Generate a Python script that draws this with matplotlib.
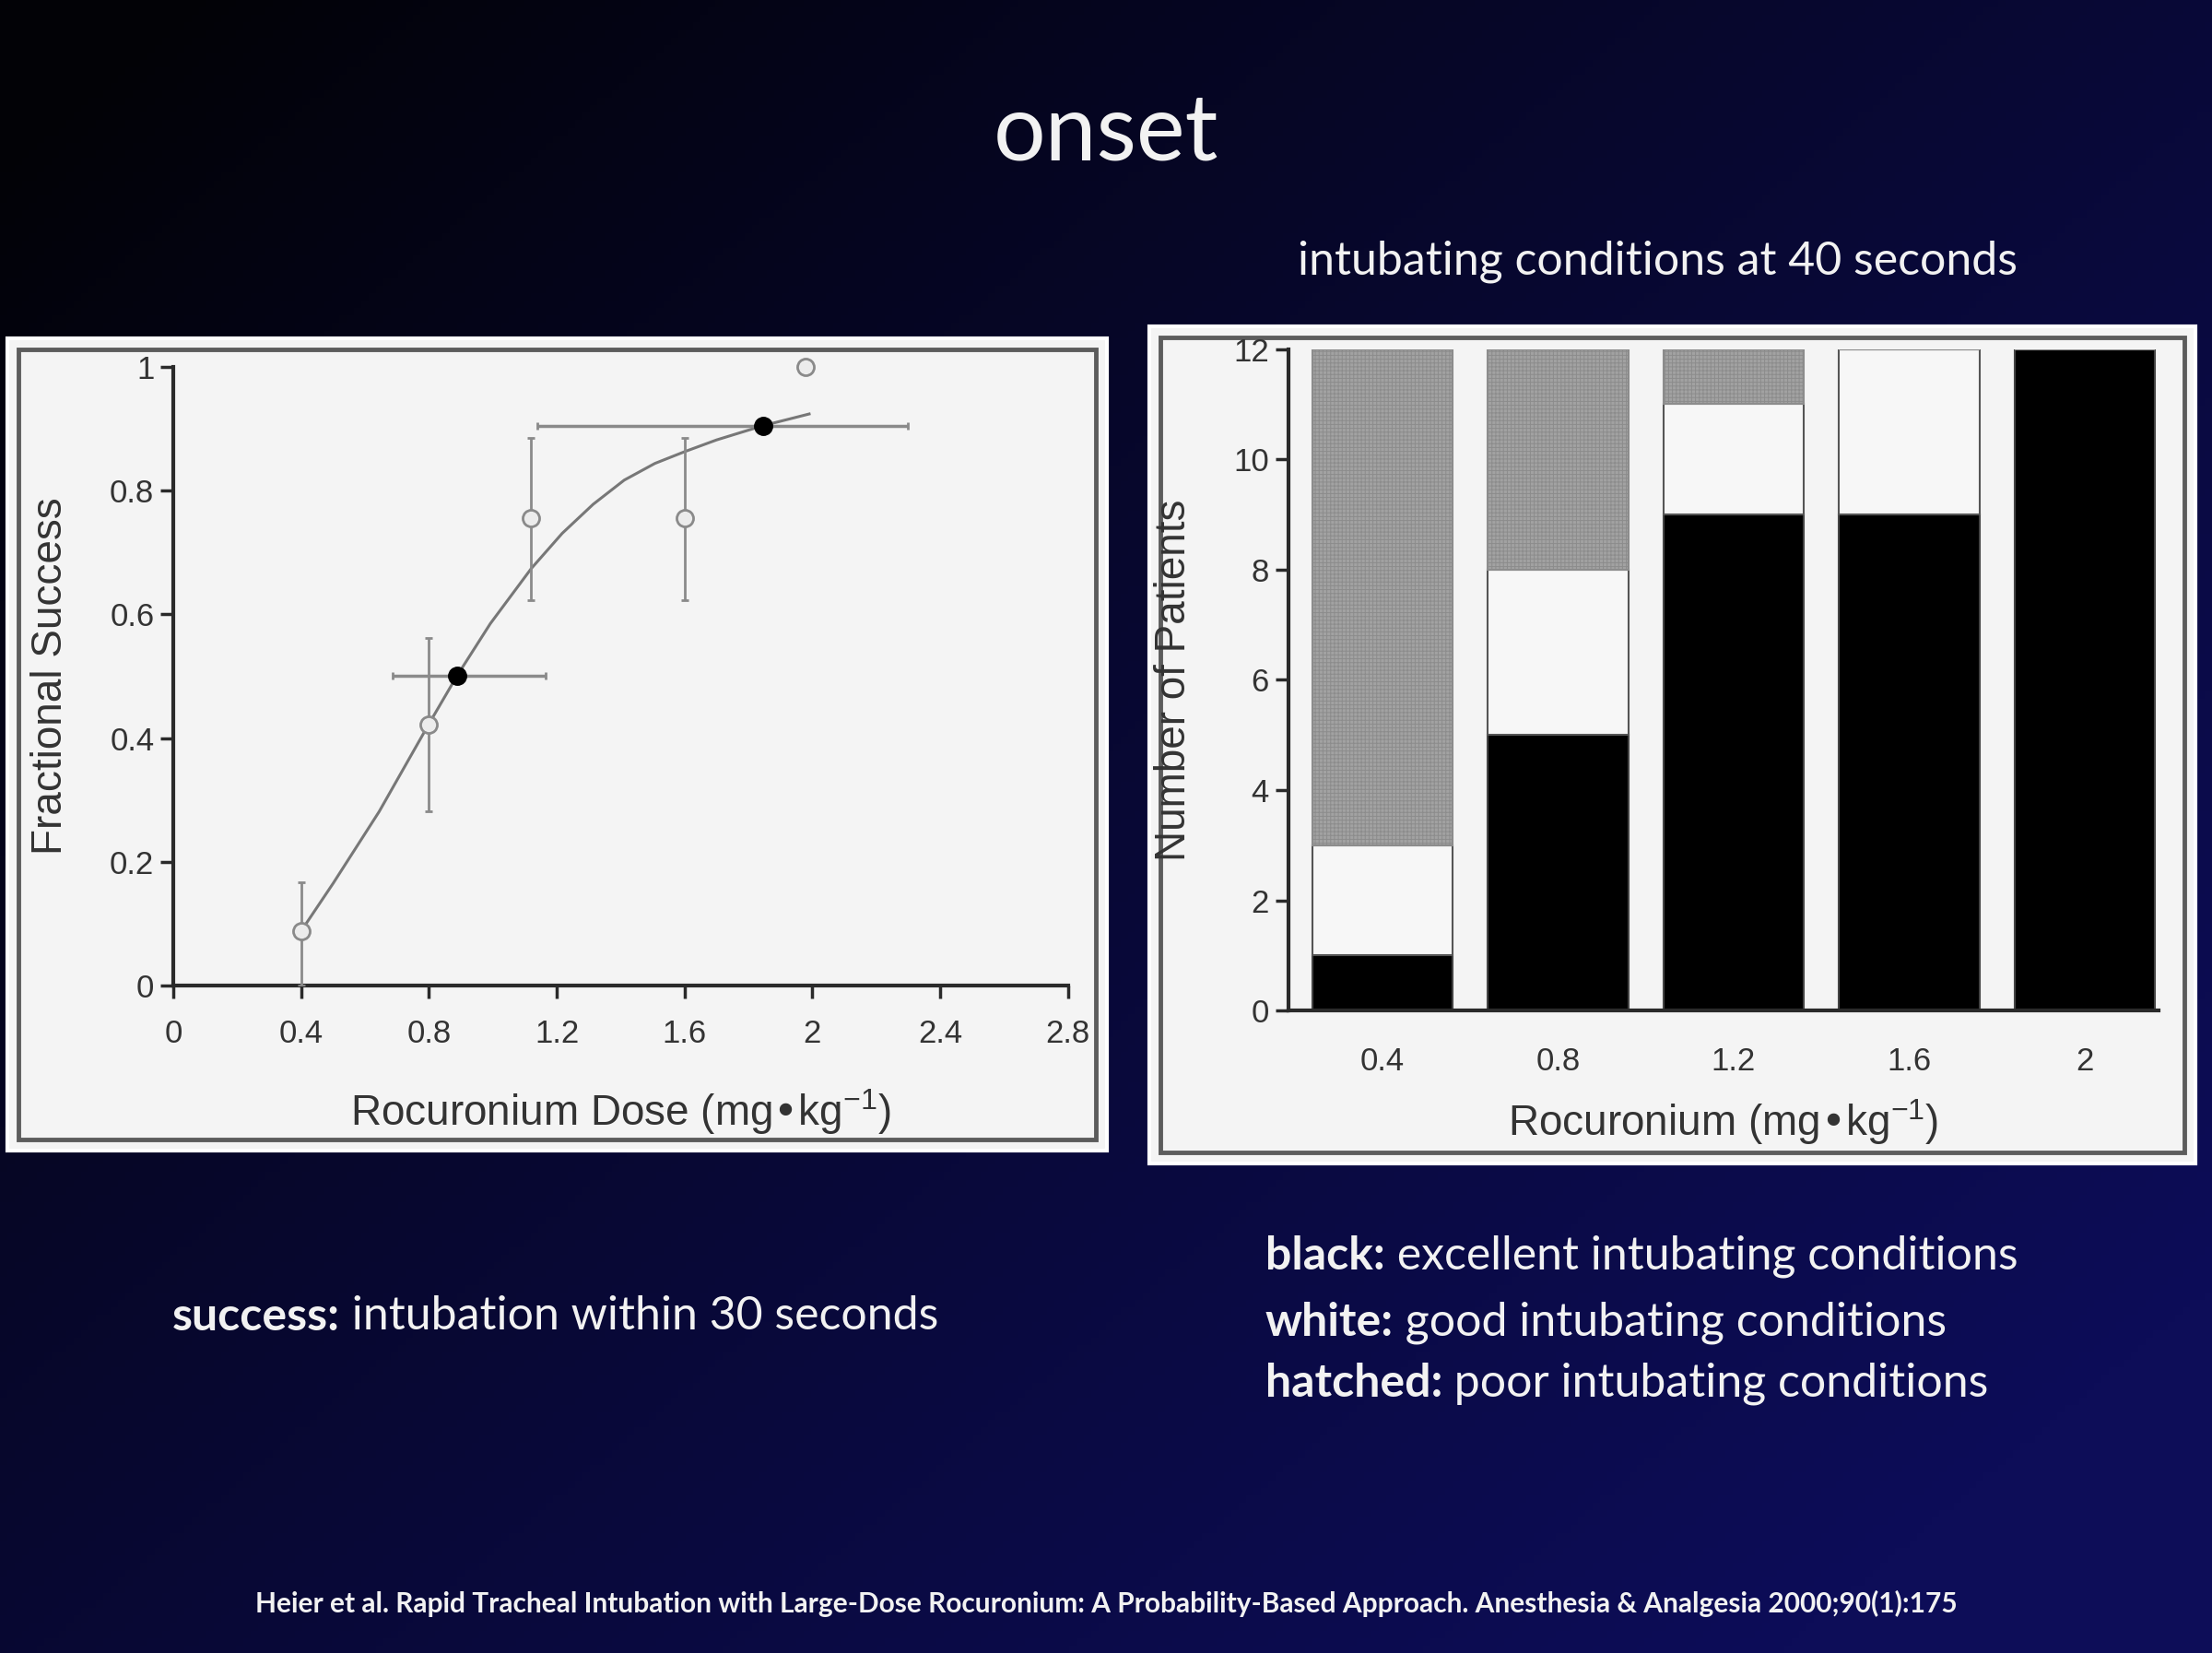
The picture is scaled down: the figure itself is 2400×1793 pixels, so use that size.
import numpy as np
import matplotlib
matplotlib.use("Agg")
import matplotlib.pyplot as plt
from matplotlib.patches import Rectangle

# left chart: fractional success vs dose
open_x = [0.4, 0.8, 1.12, 1.6, 1.98]
open_y = [0.087, 0.422, 0.756, 0.756, 1.0]
open_lo = [0.0, 0.281, 0.623, 0.623, 1.0]
open_hi = [0.167, 0.562, 0.886, 0.886, 1.0]

ed_x = [0.887, 1.845]
ed_y = [0.5, 0.905]
ed_lo = [0.685, 1.14]
ed_hi = [1.166, 2.30]

curve_x = [0.4, 0.5, 0.644, 0.8, 0.887, 0.992, 1.12, 1.217, 1.314, 1.411, 1.507, 1.6, 1.70, 1.845, 1.99]
curve_y = [0.088, 0.165, 0.281, 0.423, 0.5, 0.585, 0.674, 0.731, 0.778, 0.817, 0.844, 0.863, 0.882, 0.905, 0.924]

left_xticks = [0, 0.4, 0.8, 1.2, 1.6, 2, 2.4, 2.8]
left_xlabels = ["0", "0.4", "0.8", "1.2", "1.6", "2", "2.4", "2.8"]
left_yticks = [0, 0.2, 0.4, 0.6, 0.8, 1]
left_ylabels = ["0", "0.2", "0.4", "0.6", "0.8", "1"]

# right chart: intubating conditions at 40 s
doses = ["0.4", "0.8", "1.2", "1.6", "2"]
excellent = [1, 5, 9, 9, 12]
good = [2, 3, 2, 3, 0]
poor = [9, 4, 1, 0, 0]
right_yticks = [0, 2, 4, 6, 8, 10, 12]

W, H = 2400, 1793
fig = plt.figure(figsize=(W / 100, H / 100), dpi=100)

# background gradient + white panels
bg = fig.add_axes([0, 0, 1, 1], zorder=-5)
bg.axis("off")
gx, gy = np.meshgrid(np.linspace(0, 1, 300), np.linspace(0, 1, 220))
t = np.clip(0.62 * gx + 0.55 * gy - 0.05, 0, 1) ** 0.9
c0 = np.array([2, 2, 6]) / 255.0
c1 = np.array([13, 13, 88]) / 255.0
bg.imshow(c0 + (c1 - c0) * t[..., None], extent=[0, 1, 0, 1], aspect="auto", origin="upper")
bg.set_xlim(0, 1)
bg.set_ylim(0, 1)

for (x0, y0, x1, y1) in [(0.0033, 0.304, 0.5004, 0.7953), (0.5196, 0.2962, 0.9925, 0.8026)]:
    bg.add_patch(Rectangle((x0, y0), x1 - x0, y1 - y0, facecolor="#f4f4f4",
                           edgecolor="white", lw=3))
    bg.add_patch(Rectangle((x0 + 0.005, y0 + 0.0065), x1 - x0 - 0.01, y1 - y0 - 0.013,
                           fill=False, edgecolor="#5c5c5c", lw=3.5))

chart_font = "Liberation Sans"
tick_col = "#333333"

# ---- left chart
ax = fig.add_axes([0.0784, 0.4039, 0.4044, 0.3741])
ax.set_facecolor("none")
ax.plot(curve_x, curve_y, color="#777777", lw=2.2, zorder=2, solid_joinstyle="round")
ax.errorbar(open_x[:4], open_y[:4],
            yerr=[np.subtract(open_y[:4], open_lo[:4]), np.subtract(open_hi[:4], open_y[:4])],
            fmt="o", ms=13, mfc="#ececec", mec="#8a8a8a", mew=2, ecolor="#8a8a8a",
            elinewidth=2, capsize=3, capthick=2, zorder=3)
ax.plot(open_x[4:], open_y[4:], "o", ms=13, mfc="#ececec", mec="#8a8a8a", mew=2,
        clip_on=False, zorder=3)
ax.errorbar(ed_x, ed_y,
            xerr=[np.subtract(ed_x, ed_lo), np.subtract(ed_hi, ed_x)],
            fmt="o", ms=14, mfc="black", mec="black", ecolor="#8a8a8a",
            elinewidth=2.5, capsize=3, capthick=2, zorder=4)
ax.set_xlim(0, 2.8)
ax.set_ylim(0, 1)
ax.spines["top"].set_visible(False)
ax.spines["right"].set_visible(False)
for s in ["left", "bottom"]:
    ax.spines[s].set_linewidth(3)
    ax.spines[s].set_color("#2a2a2a")
ax.set_xticks(left_xticks)
ax.set_xticklabels(left_xlabels)
ax.set_yticks(left_yticks)
ax.set_yticklabels(left_ylabels)
ax.tick_params(axis="x", direction="out", length=10, width=2.5, color="#2a2a2a",
               pad=16, labelsize=25, labelcolor=tick_col)
ax.tick_params(axis="y", direction="out", length=10, width=2.5, color="#2a2a2a",
               pad=5, labelsize=25, labelcolor=tick_col)
for lab in ax.get_xticklabels() + ax.get_yticklabels():
    lab.set_family(chart_font)
ax.set_xlabel("Rocuronium Dose (mg\u2022kg$^{\\mathregular{-1}}$)", family=chart_font,
              fontsize=33, color=tick_col, labelpad=30)
ax.set_ylabel("Fractional Success", family=chart_font, fontsize=33, color=tick_col,
              labelpad=30)

# ---- right chart
ax2 = fig.add_axes([0.5823, 0.3886, 0.3935, 0.4003])
ax2.set_facecolor("none")
pos = np.arange(len(doses))
ax2.bar(pos, excellent, width=0.8, color="black", edgecolor="#444444", lw=1.5)
ax2.bar(pos, good, width=0.8, bottom=excellent, color="#f7f7f7", edgecolor="#555555", lw=1.5)
plt.rcParams["hatch.linewidth"] = 0.7
ax2.bar(pos, poor, width=0.8, bottom=np.add(excellent, good), color="#a2a2a2",
        edgecolor="#8c8c8c", hatch="++++", lw=1.5)
ax2.set_xlim(-0.537, 4.42)
ax2.set_ylim(0, 12)
ax2.spines["top"].set_visible(False)
ax2.spines["right"].set_visible(False)
for s in ["left", "bottom"]:
    ax2.spines[s].set_linewidth(3)
    ax2.spines[s].set_color("#2a2a2a")
ax2.set_xticks(pos)
ax2.set_xticklabels(doses)
ax2.set_yticks(right_yticks)
ax2.tick_params(axis="x", length=0, pad=28, labelsize=25, labelcolor=tick_col)
ax2.tick_params(axis="y", direction="out", length=10, width=2.5, color="#2a2a2a",
                pad=5, labelsize=25, labelcolor=tick_col)
for lab in ax2.get_xticklabels() + ax2.get_yticklabels():
    lab.set_family(chart_font)
ax2.set_xlabel("Rocuronium (mg\u2022kg$^{\\mathregular{-1}}$)", family=chart_font,
               fontsize=33, color=tick_col, labelpad=16)
ax2.set_ylabel("Number of Patients", family=chart_font, fontsize=33, color=tick_col,
               labelpad=30)

# ---- slide text
slide_font = "Lato"
white = "#f2f2f2"
fig.text(0.5, 0.919, "onset", family=slide_font, fontsize=72, color=white,
         ha="center", va="center")
fig.text(0.7494, 0.842, "intubating conditions at 40 seconds", family=slide_font,
         fontsize=36, color=white, ha="center", va="center")

renderer = fig.canvas.get_renderer()


def mixed(x, y, bold, rest, size=36):
    t1 = fig.text(x, y, bold, family=slide_font, fontweight="bold", fontsize=size,
                  color=white, va="center")
    bb = t1.get_window_extent(renderer)
    x2 = fig.transFigure.inverted().transform((bb.x1, 0))[0]
    fig.text(x2, y, " " + rest, family=slide_font, fontsize=size, color=white, va="center")


mixed(0.0778, 0.2033, "success:", "intubation within 30 seconds")
mixed(0.572, 0.240, "black:", "excellent intubating conditions")
mixed(0.572, 0.200, "white:", "good intubating conditions")
mixed(0.572, 0.163, "hatched:", "poor intubating conditions")

fig.text(0.5, 0.030,
         "Heier et al. Rapid Tracheal Intubation with Large-Dose Rocuronium: A Probability-Based "
         "Approach. Anesthesia & Analgesia 2000;90(1):175",
         family=slide_font, fontweight="bold", fontsize=21.5, color=white,
         ha="center", va="center")

fig.savefig("out.png", dpi=100)
